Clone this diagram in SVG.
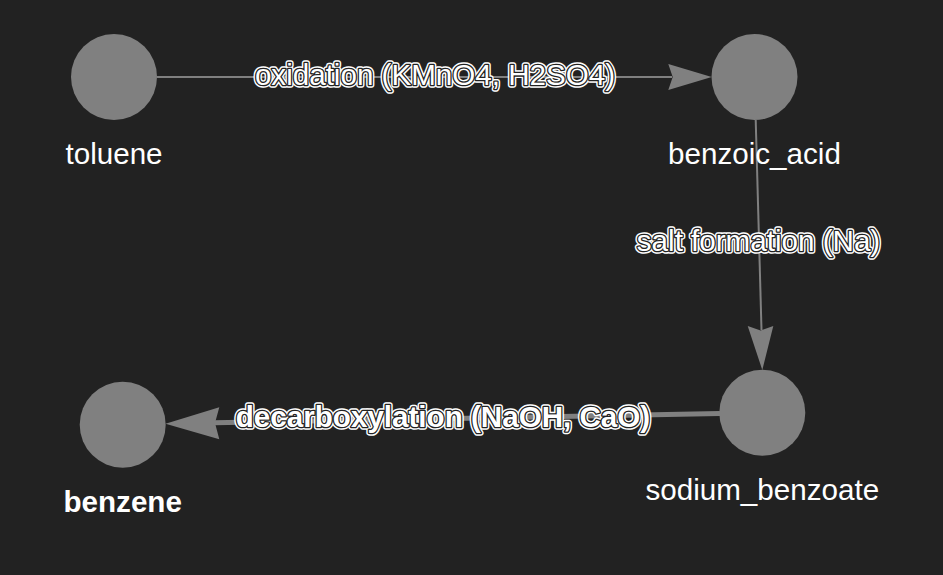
<svg xmlns="http://www.w3.org/2000/svg" width="943" height="575" viewBox="0 0 943 575">
<style>
.node{fill:#808080}
.nlabel{font-family:"Liberation Sans",Arial,sans-serif;font-size:29.6px;fill:#ffffff;text-anchor:middle}
.edge{stroke:#808080;fill:none}
.arrow{fill:#808080}
.elabel{font-family:"Liberation Sans",Arial,sans-serif;font-size:29.6px;text-anchor:middle}
.halo{fill:#ffffff;stroke:#ffffff;stroke-width:5.5;stroke-linejoin:round}
.ink{fill:#ffffff;stroke:#222222;stroke-width:2.6;stroke-linejoin:round;paint-order:stroke fill}
</style>
<rect width="943" height="575" fill="#222222"/>
<g id="connectors">
  <g id="e1">
    <line class="edge" x1="157" y1="77" x2="672" y2="77" stroke-width="2"/>
    <polygon class="arrow" points="711.7,77 668.3,64 672.7,77 668.3,90"/>
  </g>
  <g id="e2">
    <line class="edge" x1="755.7" y1="120" x2="761.5" y2="330" stroke-width="2"/>
    <polygon class="arrow" points="762.3,370 747.7,326 760.6,330.5 773.3,326"/>
  </g>
  <g id="e3">
    <line class="edge" x1="720" y1="413.6" x2="214" y2="422.8" stroke-width="5"/>
    <polygon class="arrow" points="165.5,423.7 219.3,407.3 215,423 219.3,439.3"/>
  </g>
  <g id="e1-label" class="elabel">
    <text class="halo" x="435" y="85">oxidation (KMnO4, H2SO4)</text>
    <text class="ink" x="435" y="85">oxidation (KMnO4, H2SO4)</text>
  </g>
  <g id="e2-label" class="elabel">
    <text class="halo" x="758.5" y="251">salt formation (Na)</text>
    <text class="ink" x="758.5" y="251">salt formation (Na)</text>
  </g>
  <g id="e3-label" class="elabel" font-weight="bold">
    <text class="halo" x="443" y="427">decarboxylation (NaOH, CaO)</text>
    <text class="ink" x="443" y="427">decarboxylation (NaOH, CaO)</text>
  </g>
</g>
<g id="toluene">
  <circle class="node" cx="114" cy="77" r="43"/>
  <text class="nlabel" x="114" y="164">toluene</text>
</g>
<g id="benzoic_acid">
  <circle class="node" cx="754.5" cy="77" r="43"/>
  <text class="nlabel" x="754.5" y="164">benzoic_acid</text>
</g>
<g id="sodium_benzoate">
  <circle class="node" cx="762.3" cy="412.8" r="43"/>
  <text class="nlabel" x="762.3" y="499.5">sodium_benzoate</text>
</g>
<g id="benzene">
  <circle class="node" cx="122.7" cy="424.7" r="43"/>
  <text class="nlabel" x="122.7" y="511.5" font-weight="bold">benzene</text>
</g>
</svg>
